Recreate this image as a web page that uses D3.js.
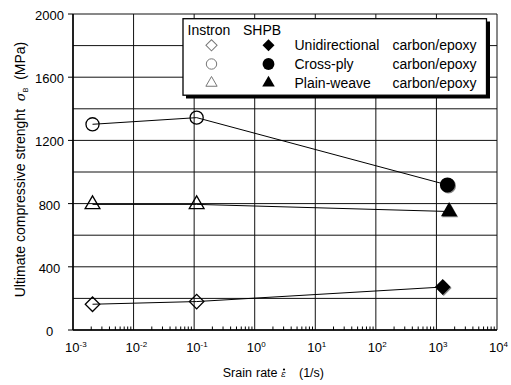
<!DOCTYPE html>
<html><head><meta charset="utf-8">
<script src="https://cdn.jsdelivr.net/npm/d3@7"></script>
<style>body{margin:0;background:#fff}svg{display:block;font-family:"Liberation Sans",Arial,sans-serif}</style>
</head><body><svg id="c" width="511" height="385"></svg>
<script>
const seriesNames = ["Unidirectional", "Cross-ply", "Plain-weave"];
const seriesMaterial = ["carbon/epoxy", "carbon/epoxy", "carbon/epoxy"];
const seriesSymbols = ["diamond", "circle", "triangle"];
const instronRates = [2.1e-3, 0.11];
const instronUni = [163, 180];
const instronCross = [1302, 1344];
const instronPlain = [795, 795];
const shpbRates = [1.27e3, 1.52e3, 1.62e3];
const shpbValues = [272, 918, 750];
const yTicks = [0, 400, 800, 1200, 1600, 2000];
const yGrid = [0, 200, 400, 600, 800, 1000, 1200, 1400, 1600, 1800, 2000];
const xDecades = [-3, -2, -1, 0, 1, 2, 3, 4];

const svg = d3.select("#c");
const x = d3.scaleLog().domain([1e-3, 1e4]).range([73, 497]);
const y = d3.scaleLinear().domain([0, 2000]).range([330, 14]);

// grid
const g = svg.append("g");
g.selectAll(".hg").data(yGrid).join("line")
  .attr("x1", x(1e-3)).attr("x2", x(1e4)).attr("y1", d => y(d)).attr("y2", d => y(d))
  .attr("stroke", "#111").attr("stroke-width", 1);
g.selectAll(".vg").data(xDecades).join("line")
  .attr("x1", d => x(Math.pow(10, d))).attr("x2", d => x(Math.pow(10, d)))
  .attr("y1", y(0)).attr("y2", y(2000))
  .attr("stroke", "#111").attr("stroke-width", 1);
// axes
g.append("line").attr("x1", x(1e-3)).attr("x2", x(1e-3)).attr("y1", y(0)).attr("y2", y(2000)).attr("stroke", "#000").attr("stroke-width", 1.5);
g.append("line").attr("x1", x(1e-3)).attr("x2", x(1e4)).attr("y1", y(0)).attr("y2", y(0)).attr("stroke", "#000").attr("stroke-width", 1.5);
// y ticks
g.selectAll(".yt").data(yTicks).join("line")
  .attr("x1", x(1e-3) - 5).attr("x2", x(1e-3)).attr("y1", d => y(d)).attr("y2", d => y(d))
  .attr("stroke", "#000").attr("stroke-width", 1);
g.selectAll(".yl").data(yTicks).join("text")
  .attr("x", 49.5).attr("y", d => y(d) + 6)
  .attr("text-anchor", "middle").attr("font-size", 13).text(d => d);
// minor x ticks
const minors = [];
xDecades.slice(0, -1).forEach(d => { for (let k = 2; k <= 9; k++) minors.push(k * Math.pow(10, d)); });
g.selectAll(".mt").data(minors).join("line")
  .attr("x1", d => x(d)).attr("x2", d => x(d)).attr("y1", y(0)).attr("y2", y(0) - 3.5)
  .attr("stroke", "#000").attr("stroke-width", 1);
// x tick labels
const xl = g.selectAll(".xl").data(xDecades).join("text")
  .attr("x", d => x(Math.pow(10, d)) - 8).attr("y", 352)
  .attr("font-size", 13);
xl.append("tspan").text("10");
xl.append("tspan").attr("font-size", 8).attr("dy", -5).text(d => d);

// axis titles
svg.append("text").attr("transform", "translate(25,169.5) rotate(-90)")
  .attr("text-anchor", "middle").attr("font-size", 14)
  .call(t => {
    t.append("tspan").text("Ultimate compressive strenght\u00a0\u00a0");
    t.append("tspan").attr("font-style", "italic").attr("font-family", "DejaVu Serif, serif").attr("font-size", 13).text("σ");
    t.append("tspan").attr("font-size", 7).attr("dy", 3).text("B");
    t.append("tspan").attr("dy", -3).text("\u00a0\u00a0(MPa)");
  });
svg.append("text").attr("x", 222.7).attr("y", 377).attr("font-size", 12.5).text("Srain");
svg.append("text").attr("x", 256).attr("y", 377).attr("font-size", 12.5).text("rate");
svg.append("text").attr("x", 281).attr("y", 377).attr("font-size", 9)
  .attr("font-style", "italic").attr("font-family", "DejaVu Serif, serif").text("ε");
svg.append("circle").attr("cx", 284).attr("cy", 369.5).attr("r", 1.1).attr("fill", "#000");
svg.append("text").attr("x", 299).attr("y", 377).attr("font-size", 12.5).text("(1/s)");

// symbols
function sym(type, size) {
  const s = type === "diamond" ? d3.symbolSquare : type === "circle" ? d3.symbolCircle : d3.symbolTriangle;
  return d3.symbol().type(s).size(size)();
}
function symSize(type, big) {
  if (type === "diamond") return big ? 125 : 105;
  if (type === "circle") return big ? 180 : 135;
  return big ? 115 : 95;
}
function rot(type) { return type === "diamond" ? " rotate(45)" : ""; }

const instronSeries = [instronUni, instronCross, instronPlain];
const line = d3.line().x(d => x(d[0])).y(d => y(d[1]));
instronSeries.forEach((vals, i) => {
  const pts = instronRates.map((r, j) => [r, vals[j]]).concat([[shpbRates[i], shpbValues[i]]]);
  svg.append("path").attr("d", line(pts)).attr("fill", "none").attr("stroke", "#000").attr("stroke-width", 1);
  const t = seriesSymbols[i];
  instronRates.forEach((r, j) => {
    svg.append("path").attr("d", sym(t, symSize(t, false)))
      .attr("transform", `translate(${x(r)},${y(vals[j])})${rot(t)}`)
      .attr("fill", "none").attr("stroke", "#000").attr("stroke-width", 1.3);
  });
  svg.append("path").attr("d", sym(t, symSize(t, true)))
    .attr("transform", `translate(${x(shpbRates[i]) + 1},${y(shpbValues[i]) + 1})${rot(t)}`)
    .attr("fill", "#888");
  svg.append("path").attr("d", sym(t, symSize(t, true)))
    .attr("transform", `translate(${x(shpbRates[i])},${y(shpbValues[i])})${rot(t)}`)
    .attr("fill", "#000");
});

// legend
const L = svg.append("g");
L.append("rect").attr("x", 186).attr("y", 21.5).attr("width", 304).attr("height", 77).attr("fill", "#000");
L.append("rect").attr("x", 183).attr("y", 18.7).attr("width", 303.5).attr("height", 76.5)
  .attr("fill", "#fff").attr("stroke", "#000").attr("stroke-width", 1.3);
L.append("text").attr("x", 187.5).attr("y", 34.5).attr("font-size", 14).text("Instron");
L.append("text").attr("x", 243).attr("y", 34.5).attr("font-size", 14).text("SHPB");
const rowsY = [45.3, 64, 83];
const legSize = { diamond: [62, 72], circle: [85, 110], triangle: [55, 68] };
seriesNames.forEach((n, i) => {
  const t = seriesSymbols[i];
  const yy = rowsY[i];
  L.append("path").attr("d", sym(t, legSize[t][0]))
    .attr("transform", `translate(211.5,${yy})${rot(t)}`)
    .attr("fill", "none").attr("stroke", "#777").attr("stroke-width", 1);
  L.append("path").attr("d", sym(t, legSize[t][1]))
    .attr("transform", `translate(268.5,${yy})${rot(t)}`)
    .attr("fill", "#000");
  L.append("text").attr("x", 294.5).attr("y", yy + 5).attr("font-size", 14).text(n);
  L.append("text").attr("x", 476.5).attr("y", yy + 5).attr("text-anchor", "end").attr("font-size", 14).text(seriesMaterial[i]);
});
</script></body></html>
